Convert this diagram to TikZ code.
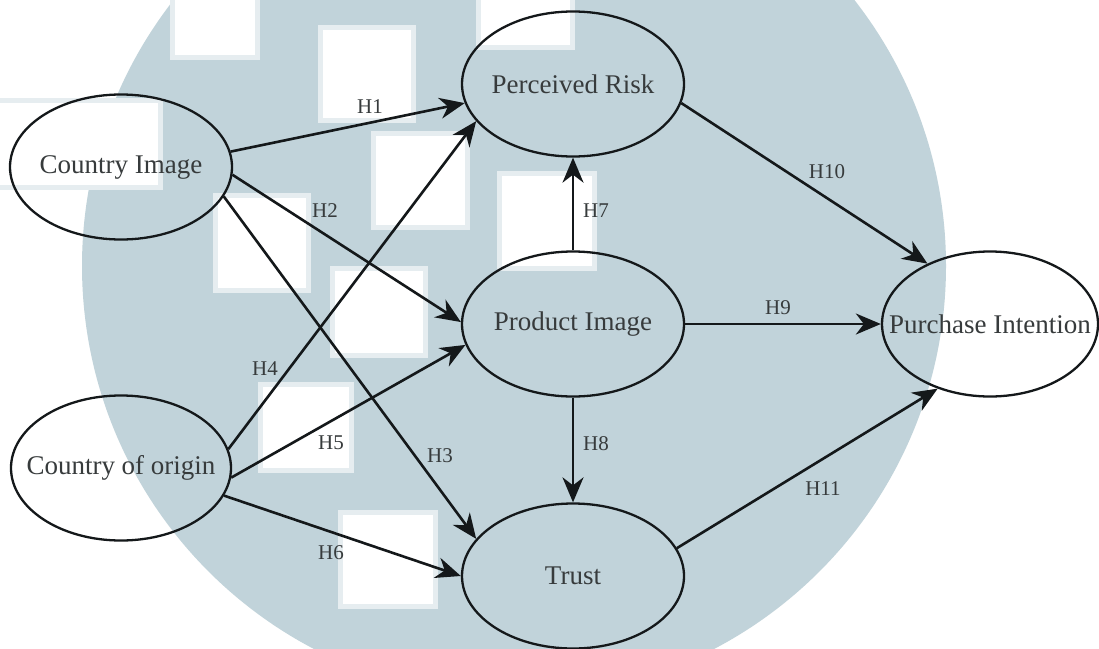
\documentclass[tikz,border=0pt]{standalone}
\usepackage{fontspec}
\setmainfont{Liberation Serif}
\usetikzlibrary{shapes.geometric,arrows.meta}
\definecolor{bgc}{RGB}{193,211,218}
\definecolor{inkc}{RGB}{20,24,26}
\tikzset{
  var/.style={ellipse, draw=inkc, line width=2.3pt, inner sep=0pt,
    minimum width=#1, minimum height=145pt,
    font=\fontsize{27}{32}\selectfont, text=inkc!85},
  arr/.style={draw=inkc, line width=2.6pt, -{Stealth[length=25pt,width=21pt,inset=8pt]}},
  hyp/.style={font=\fontsize{21}{25}\selectfont, text=inkc!85, inner sep=0pt},
  wsq/.style={fill=white, draw=bgc!40, line width=5pt}
}
\begin{document}
\begin{tikzpicture}[x=1pt,y=-1pt]
\useasboundingbox (0,0) rectangle (1099,648);
\begin{scope}
\clip (0,0) rectangle (1099,648);
\fill[white] (0,0) rectangle (1099,648);
\fill[bgc] (514,266) circle[radius=432];
\path[wsq] (172,-10) rectangle (257,57);
\path[wsq] (320,27) rectangle (413,120);
\path[wsq] (373,133) rectangle (467,227);
\path[wsq] (215,195) rectangle (308,290);
\path[wsq] (332,268) rectangle (425,355);
\path[wsq] (499,173) rectangle (594,268);
\path[wsq] (478,-10) rectangle (572,47);
\path[wsq] (-10,100) rectangle (160,187);
\path[wsq] (260,384) rectangle (351,470);
\path[wsq] (340,512) rectangle (435,606);
\end{scope}
% variables
\node[var=222pt] (ci) at (121,167) {\makebox[0pt]{Country Image}};
\node[var=220pt] (co) at (121,468) {\makebox[0pt]{Country of origin}};
\node[var=222pt] (pr) at (573,84) {\makebox[0pt]{Perceived Risk}};
\node[var=222pt] (pi) at (573,324) {\makebox[0pt]{Product Image}};
\node[var=222pt] (tr) at (573,576) {\makebox[0pt]{Trust}};
\node[var=216pt] (pu) at (990,324) {\makebox[0pt]{Purchase Intention}};
% paths
\draw[arr] (ci.8) -- (pr.190);
\draw[arr] (ci.-4) -- (pi.179);
\draw[arr] (ci.-16) -- (tr.159);
\draw[arr] (co.10) -- (pr.201);
\draw[arr] (co.-5) -- (pi.191);
\draw[arr] (co.-15) -- (tr.180);
\draw[arr] (pi.90) -- (pr.270);
\draw[arr] (pi.270) -- (tr.90);
\draw[arr] (pi.0) -- (pu.180);
\draw[arr] (pr.-10) -- (pu.136);
\draw[arr] (tr.15) -- (pu.231);
% labels
\node[hyp] (h1) at (370,107) {H1};
\node[hyp] (h2) at (325,211) {H2};
\node[hyp] (h3) at (440,456) {H3};
\node[hyp] (h4) at (265,369) {H4};
\node[hyp] (h5) at (331,443) {H5};
\node[hyp] (h6) at (331,553) {H6};
\node[hyp] (h7) at (596,211) {H7};
\node[hyp] (h8) at (596,444) {H8};
\node[hyp] (h9) at (778,308) {H9};
\node[hyp] (h10) at (827,172) {H10};
\node[hyp] (h11) at (823,489) {H11};
\end{tikzpicture}
\end{document}
